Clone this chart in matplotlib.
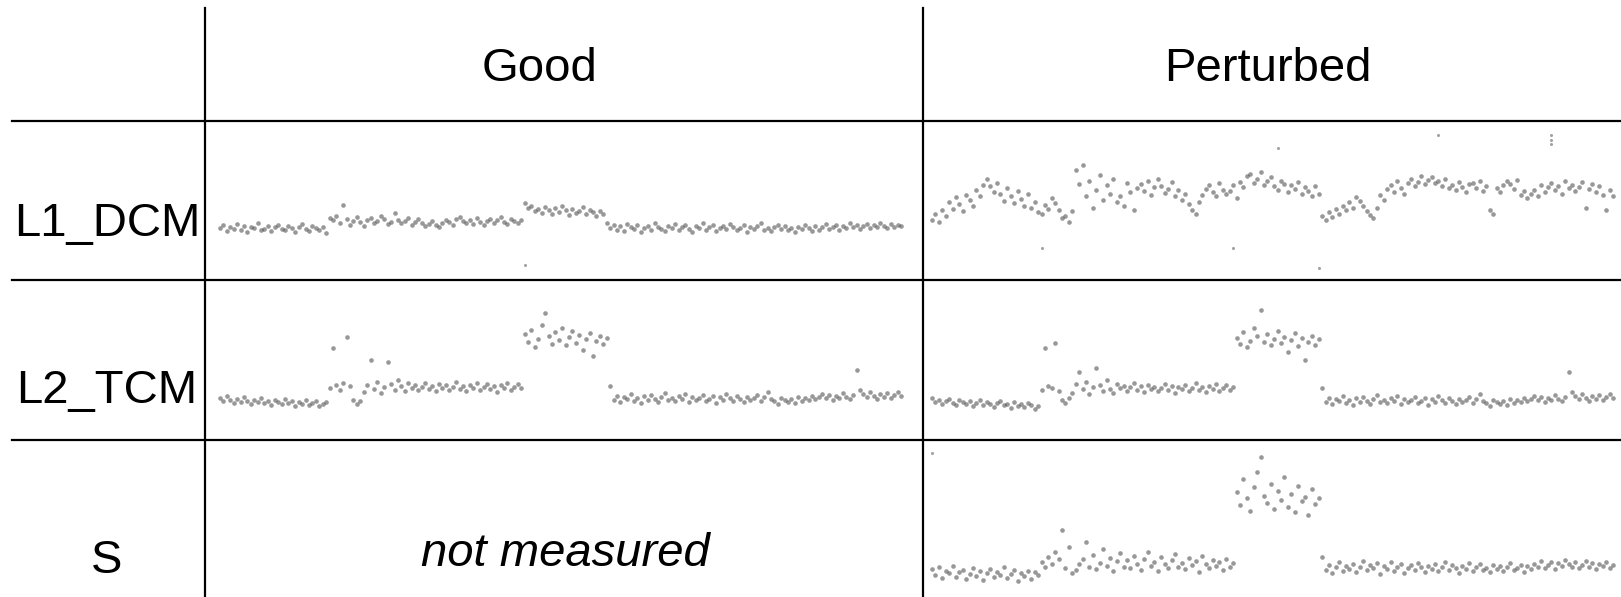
import numpy as np
import matplotlib.pyplot as plt

plt.rcParams['font.family'] = ['Liberation Sans', 'DejaVu Sans']

col_titles = ['Good', 'Perturbed']
row_titles = ['L1_DCM', 'L2_TCM', 'S']

# values, pixels above the bottom of each cell
good_l1 = [52, 55, 49, 53, 51, 56, 50, 54, 48, 53, 52, 57, 50, 51, 54, 49, 53, 55, 51, 50, 54, 52, 48, 53, 56, 51, 49, 54, 52, 50, 53, 47,
           62, 60, 64, 57, 75, 61, 55, 59, 63, 58, 54, 60, 62, 57, 59, 64, 61, 56, 58, 67, 60, 57, 59, 62, 55, 58, 61, 57, 54, 56, 59, 55, 53,
           57, 60, 58, 55, 61, 63, 59, 57, 60, 56, 62, 58, 55, 59, 61, 57, 60, 63, 58, 56, 61, 59, 57, 60,
           77, 72, 74, 69, 71, 67, 73, 70, 66, 72, 68, 74, 70, 65, 71, 67, 69, 73, 66, 70, 68, 64, 69, 66,
           57, 52, 55, 50, 54, 49, 56, 53, 51, 55, 48, 52, 54, 50, 57, 53, 51, 49, 54, 52, 56, 50, 53, 55, 51, 48, 54, 52, 57, 50, 53, 55, 49,
           52, 54, 51, 56, 53, 50, 52, 55, 48, 53, 51, 54, 57, 50, 52, 49, 53, 55, 51, 54, 50, 52, 48, 53, 51, 55, 52, 49, 54, 50, 53, 56, 51,
           53, 55, 50, 54, 52, 57, 53, 55, 51, 54, 56, 52, 55, 53, 57, 54, 52, 56, 53, 55, 54]
good_l1_out_i = [89]
good_l1_out_y = [15]

pert_l1 = [60, 66, 58, 70, 64, 78, 71, 83, 76, 69, 85, 80, 74, 90, 84, 95, 101, 94, 88, 97, 86, 79, 92, 84, 77, 89, 81, 74, 86, 72, 78, 68,
           66, 75, 71, 82, 77, 70, 62, 64, 58, 69, 110, 96, 115, 84, 99, 72, 90, 105, 80, 95, 86, 101, 78, 84, 74, 97, 88, 70, 92,
           96, 89, 99, 85, 93, 101, 94, 87, 91, 98, 84, 90, 80, 86, 76, 70, 66, 78, 85, 91, 95, 88, 84, 97, 90, 86,
           89, 95, 82, 98, 93, 104, 106, 97, 101, 108, 95, 99, 103, 94, 90, 99, 96, 88, 95, 91, 98, 86, 93, 89, 84, 94, 86,
           64, 60, 68, 63, 71, 66, 74, 70, 78, 72, 83, 79, 74, 69, 65, 62, 72, 85, 80, 91, 95, 88, 99, 92, 86, 97,
           101, 94, 98, 104, 96, 100, 103, 97, 99, 94, 101, 92, 95, 90, 98, 93, 88, 96, 97, 92, 99, 89, 94, 70,
           66, 92, 88, 95, 99, 96, 91, 100, 85, 89, 82, 86, 90, 84, 95, 88, 93, 97, 90, 94, 86, 99, 92,
           95, 89, 93, 98, 72, 91, 96, 88, 94, 85, 70, 90, 84]
pert_l1_out_i = [32, 88, 113, 101, 148, 181, 181, 181]
pert_l1_out_y = [32, 32, 12, 132, 145, 145, 140, 136]

good_l2 = [42, 39, 44, 40, 37, 41, 38, 43, 39, 36, 40, 38, 42, 37, 39, 35, 40, 38, 36, 41, 37, 39, 34, 38, 36, 40, 35, 37, 39, 34, 36, 38,
           52, 92, 55, 50, 57, 103, 54, 40, 36, 39, 48, 55, 80, 51, 58, 47, 53, 78, 56, 50, 60, 54, 49, 57, 52, 55, 50, 53, 57, 51, 54, 49,
           56, 52, 55, 50, 53, 58, 51, 54, 49, 55, 52, 57, 50, 53, 56, 51, 54, 48, 55, 52, 57, 50, 53, 56, 52,
           106, 98, 110, 93, 101, 115, 127, 104, 96, 108, 100, 112, 95, 103, 109, 97, 105, 90, 101, 107, 84, 99, 104, 96, 102,
           54, 40, 44, 38, 43, 41, 46, 39, 42, 37, 44, 40, 45, 41, 38, 43, 47, 40, 42, 39, 44, 41, 46, 38, 43, 40, 42, 45, 39, 41, 44, 37,
           43, 40, 46, 42, 39, 44, 41, 38, 43, 40, 42, 45, 39, 43, 48, 41, 39, 36, 42, 40, 38, 41, 37, 43, 39, 42, 40, 44, 41, 43, 46, 42,
           45, 40, 44, 42, 47, 43, 41, 45, 70, 50, 46, 43, 48, 44, 41, 46, 43, 47, 42, 45, 48, 44]

pert_l2 = [42, 38, 40, 36, 39, 41, 37, 35, 40, 38, 36, 39, 34, 37, 40, 35, 38, 36, 33, 37, 39, 35, 36, 32, 38, 34, 36, 33, 37, 35, 31, 34,
           50, 92, 54, 52, 97, 49, 40, 37, 42, 47, 56, 68, 51, 58, 46, 53, 72, 55, 49, 60, 51, 47, 56, 52, 54, 49, 53, 57, 50, 54, 48, 55,
           51, 53, 49, 52, 56, 50, 54, 47, 53, 51, 55, 49, 52, 57, 50, 53, 48, 54, 51, 56, 49, 52, 55, 50, 53,
           102, 96, 108, 93, 99, 112, 104, 130, 98, 106, 95, 101, 109, 97, 103, 88, 100, 107, 94, 102, 80, 98, 104, 95, 101,
           52, 38, 42, 36, 41, 39, 44, 37, 40, 35, 42, 38, 43, 39, 36, 41, 45, 38, 40, 37, 42, 39, 44, 36, 41, 38, 40, 43, 37, 39, 42, 35,
           41, 38, 44, 40, 37, 42, 39, 36, 41, 38, 40, 43, 37, 41, 46, 39, 37, 34, 40, 38, 36, 39, 35, 41, 37, 40, 38, 42, 39, 41, 44, 40,
           43, 38, 42, 40, 45, 41, 39, 43, 68, 48, 44, 41, 46, 42, 39, 44, 41, 45, 40, 43, 46, 42]

pert_s = [28, 22, 30, 19, 26, 24, 31, 20, 25, 27, 18, 23, 29, 21, 26, 17, 24, 28, 20, 25, 22, 30, 19, 23, 27, 16, 24, 21, 26, 18, 25, 22,
          35, 30, 40, 33, 45, 38, 67, 29, 50, 24, 27, 33, 38, 55, 30, 42, 28, 34, 48, 31, 39, 26, 36, 44, 30, 37, 29, 41, 33, 27, 38, 45,
          31, 35, 26, 40, 33, 29, 37, 43, 30, 34, 28, 39, 32, 36, 25, 41, 33, 29, 37, 31, 35, 27, 38, 30, 34,
          105, 92, 118, 99, 86, 110, 125, 140, 101, 94, 113, 88, 106, 97, 120, 90, 103, 85, 111, 96, 100, 82, 108, 93, 99,
          40, 27, 32, 24, 30, 35, 26, 31, 28, 33, 25, 30, 36, 27, 32, 29, 34, 23, 31, 28, 35, 26, 30, 33, 24, 29, 32, 27, 34, 30, 25, 31,
          28, 33, 26, 30, 35, 27, 32, 29, 24, 31, 28, 34, 26, 30, 33, 27, 29, 25, 32, 28, 31, 26, 30, 34, 27, 29, 32, 25, 31, 28, 33, 30,
          36, 29, 32, 35, 28, 34, 31, 37, 33, 30, 35, 29, 32, 36, 30, 34, 28, 33, 31, 35, 29, 32]
pert_s_out_i = [0]
pert_s_out_y = [144]

# layout in pixels of the 1621x597 image
W, H = 1621, 597
col_x = [205, 923, 1621]
row_y = [121, 280, 440, 597]
data_x = [(220, 901), (932, 1613)]

fig = plt.figure(figsize=(W / 100, H / 100), dpi=100)
bg = fig.add_axes([0, 0, 1, 1])
bg.set_xlim(0, W)
bg.set_ylim(H, 0)
bg.axis('off')

for y in row_y[:3]:
    bg.plot([12, W], [y, y], color='black', lw=1.6)
for x in col_x[:2]:
    bg.plot([x, x], [8, H], color='black', lw=1.6)

fs = 34
bg.text(540, 69, col_titles[0], fontsize=fs, ha='center', va='center')
bg.text(1268, 69, col_titles[1], fontsize=fs, ha='center', va='center')
label_y = [224, 391, 561]
for name, y in zip(row_titles, label_y):
    bg.text(107, y, name, fontsize=fs, ha='center', va='center')
bg.text(565, 554, 'not measured', fontsize=fs, style='italic', ha='center', va='center')

panels = {
    (0, 0): (good_l1, good_l1_out_i, good_l1_out_y),
    (0, 1): (pert_l1, pert_l1_out_i, pert_l1_out_y),
    (1, 0): (good_l2, [], []),
    (1, 1): (pert_l2, [], []),
    (2, 1): (pert_s, pert_s_out_i, pert_s_out_y),
}

for (r, c), (vals, oi, oy) in panels.items():
    x0, x1 = col_x[c], col_x[c + 1]
    y0, y1 = row_y[r], row_y[r + 1]
    ax = fig.add_axes([x0 / W, 1 - y1 / H, (x1 - x0) / W, (y1 - y0) / H])
    n = len(vals)
    dx0, dx1 = data_x[c]
    step = (dx1 - dx0) / (n - 1)
    ax.set_xlim(-(dx0 - x0) / step, n - 1 + (x1 - dx1) / step)
    ax.set_ylim(0, y1 - y0)
    ax.axis('off')
    ax.scatter(np.arange(n), vals, s=11, color='#333333', alpha=0.5, linewidths=0)
    if oi:
        ax.scatter(oi, oy, s=5, color='#666666', alpha=0.6, linewidths=0)

fig.savefig('out.png', dpi=100)
